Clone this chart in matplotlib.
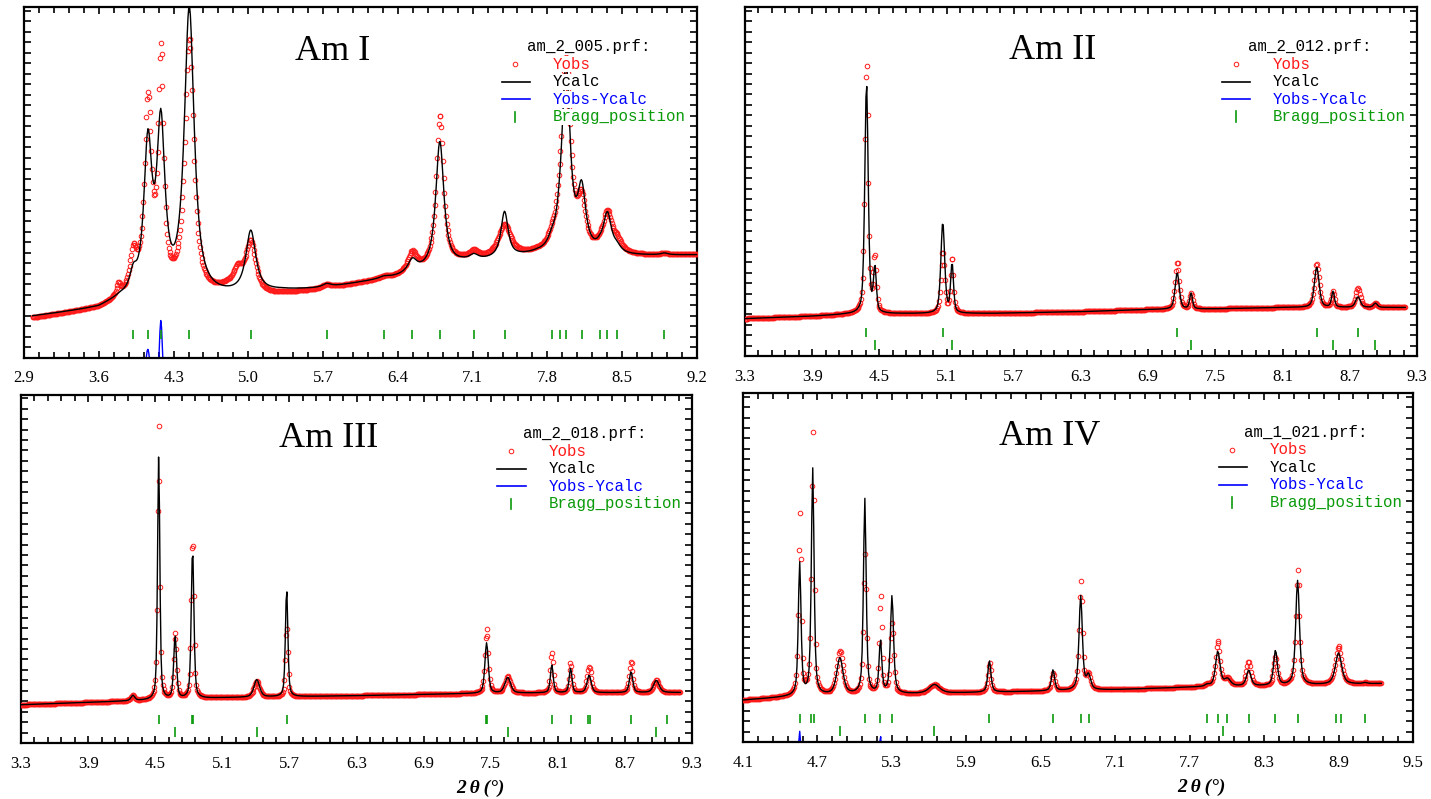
import numpy as np
import matplotlib.pyplot as plt
from matplotlib.ticker import MultipleLocator, AutoMinorLocator

# ---- Am I  (am_2_005.prf) ----
am1_name = 'Am I'
am1_file = 'am_2_005.prf:'
am1_xlim = (2.9, 9.2)
am1_xstep = 0.7
am1_range = (2.98, 9.2)
am1_bragg1 = [3.923, 4.060, 4.181, 4.447, 5.023, 5.732, 6.269, 6.536, 6.793, 7.111,
              7.399, 7.842, 7.919, 7.975, 8.121, 8.293, 8.362, 8.452, 8.895]
am1_bragg2 = []
am1_pos = [3.785, 3.923, 4.060, 4.181, 4.447, 4.900, 5.023, 5.732, 6.269, 6.536, 6.793,
           7.111, 7.399, 7.842, 7.919, 7.975, 8.121, 8.293, 8.362, 8.452, 8.895]
am1_calc = [0, 5, 42, 47, 82, 0, 17.5, 1, 0.5, 3.5, 36, 1.5, 13, 2, 3, 52.5, 16.9, 1,
            11, 1.5, 0.5]
am1_obs = [3, 11, 54, 66, 73, 5, 15, 1, 0.5, 5.5, 43, 2, 9, 2, 3, 54, 13, 1, 11, 3, 0.5]
am1_wid_calc = [0.02, 0.04, 0.045, 0.045, 0.055, 0.05, 0.055, 0.05, 0.05, 0.05, 0.045,
                0.05, 0.04, 0.04, 0.04, 0.045, 0.045, 0.04, 0.045, 0.04, 0.04]
am1_wid_obs = [0.02, 0.04, 0.04, 0.03, 0.05, 0.05, 0.06, 0.05, 0.05, 0.05, 0.04,
               0.05, 0.07, 0.04, 0.04, 0.05, 0.045, 0.04, 0.05, 0.05, 0.04]
am1_bg_x = [2.9, 3.6, 3.8, 4.3, 4.6, 4.8, 5.0, 5.1, 5.3, 5.7, 6.4, 7.0, 7.7, 8.6, 9.2]
am1_bg_calc = [11.5, 14, 16.3, 16.3, 17, 17.5, 18, 18.3, 19, 19.7, 23, 26.8, 29.2, 29, 29.3]
am1_bg_obs = [11.0, 14, 16.3, 16.5, 17, 19, 17.5, 17, 18, 19.5, 23, 27.3, 29.2, 29, 29.3]
am1_eta = 0.9
am1_diff_off = -8

# ---- Am II  (am_2_012.prf) ----
am2_name = 'Am II'
am2_file = 'am_2_012.prf:'
am2_xlim = (3.3, 9.3)
am2_xstep = 0.6
am2_range = (3.3, 9.2)
am2_bragg1 = [4.385, 5.066, 7.159, 8.405, 8.773]
am2_bragg2 = [4.460, 5.149, 7.283, 8.550, 8.929]
am2_pos = [4.385, 4.460, 5.066, 5.149, 7.159, 7.283, 8.405, 8.550, 8.773, 8.929]
am2_calc = [66, 12.5, 26, 14, 10.5, 4.5, 11.5, 4.5, 3, 1.2]
am2_obs = [72, 15.5, 17.5, 16, 13.5, 4.5, 12.5, 4.5, 5.5, 1.2]
am2_wid_calc = [0.018, 0.015, 0.02, 0.015, 0.022, 0.015, 0.025, 0.015, 0.025, 0.02]
am2_wid_obs = am2_wid_calc
am2_bg_x = [3.3, 3.9, 4.2, 4.7, 5.5, 6.3, 6.9, 7.5, 8.1, 9.2]
am2_bg_calc = [10.8, 11.5, 12.0, 12.2, 12.3, 12.8, 13.4, 13.6, 14, 14]
am2_bg_obs = am2_bg_calc
am2_eta = 0.5
am2_diff_off = -20

# ---- Am III  (am_2_018.prf) ----
am3_name = 'Am III'
am3_file = 'am_2_018.prf:'
am3_xlim = (3.3, 9.3)
am3_xstep = 0.6
am3_range = (3.3, 9.2)
am3_bragg1 = [4.531, 4.830, 4.838, 5.675, 7.455, 7.471, 8.046, 8.214, 8.370, 8.390,
              8.755, 9.079]
am3_bragg2 = [4.678, 5.408, 7.652, 8.981]
am3_pos = [4.300, 4.531, 4.678, 4.834, 5.408, 5.675, 7.463, 7.652, 8.046, 8.214,
           8.380, 8.755, 8.981]
am3_calc = [1.5, 70, 18, 43, 5, 31, 14.5, 4.5, 8, 7, 5, 6, 3.5]
am3_obs = [1.5, 79, 19, 46, 4.5, 20, 18.5, 4.8, 11.5, 8.5, 7.5, 9, 3.5]
am3_wid_calc = [0.02, 0.012, 0.015, 0.014, 0.03, 0.013, 0.018, 0.03, 0.015, 0.015,
                0.022, 0.018, 0.03]
am3_wid_obs = am3_wid_calc
am3_bg_x = [3.3, 4.2, 5.1, 6.3, 7.3, 8.0, 9.2]
am3_bg_calc = [11, 12, 13, 13.6, 14.2, 14.4, 14.5]
am3_bg_obs = am3_bg_calc
am3_eta = 0.5
am3_diff_off = -20

# ---- Am IV  (am_1_021.prf) ----
am4_name = 'Am IV'
am4_file = 'am_1_021.prf:'
am4_xlim = (4.1, 9.5)
am4_xstep = 0.6
am4_range = (4.1, 9.25)
am4_bragg1 = [4.557, 4.650, 4.673, 5.082, 5.208, 5.301, 6.086, 6.599, 6.822, 6.885,
              7.841, 7.927, 8.005, 8.176, 8.392, 8.570, 8.879, 8.923, 9.113]
am4_bragg2 = [4.881, 5.643, 7.971]
am4_pos = [4.557, 4.662, 4.881, 5.082, 5.208, 5.301, 5.643, 6.086, 6.599, 6.822,
           6.885, 7.841, 7.927, 8.005, 8.176, 8.392, 8.570, 8.900, 9.113]
am4_calc = [38, 65, 10.5, 56, 15, 28, 2.5, 9, 6, 27, 4, 0.5, 10, 2, 4.5, 10, 30, 9, 0.3]
am4_obs = [52, 75, 12.5, 40, 28, 20, 2.5, 8.5, 5, 31, 4, 0.5, 13, 2, 7, 8, 33, 11, 0.3]
am4_wid_calc = [0.013, 0.013, 0.03, 0.013, 0.013, 0.015, 0.05, 0.015, 0.015, 0.016,
                0.02, 0.02, 0.022, 0.03, 0.022, 0.018, 0.018, 0.03, 0.02]
am4_wid_obs = am4_wid_calc
am4_bg_x = [4.1, 4.5, 5.0, 5.5, 6.0, 7.1, 7.7, 8.3, 9.3]
am4_bg_calc = [12, 13, 13.5, 13.8, 14.2, 15, 15.7, 16, 16.8]
am4_bg_obs = am4_bg_calc
am4_eta = 0.6
am4_diff_off = -11

RED = '#ff1a1a'
BLUE = '#0000ff'
GREEN = '#0a9a0a'
SERIF = 'Liberation Serif'
MONO = 'Liberation Mono'


def profile(x, pos, h, w, eta, bgx, bgy):
    y = np.interp(x, bgx, bgy)
    for p, a, s in zip(pos, h, w):
        t = ((x - p) / s) ** 2
        y = y + a * (eta / (1 + t) + (1 - eta) * np.exp(-np.log(2) * t))
    return y


def panel(ax, name, fname, xlim, xstep, rng, bragg1, bragg2, pos, calc, obs,
          wc, wo, bgx, bgc, bgo, eta, off):
    x = np.arange(rng[0], rng[1] + 1e-9, 0.0075)
    yo = profile(x, pos, obs, wo, eta, bgx, bgo)
    yc = profile(x, pos, calc, wc, eta, bgx, bgc)
    ax.plot(x, yo - yc + off, color=BLUE, lw=1.0, zorder=2)
    ax.plot(x, yo, 'o', ms=3.3, mfc='none', mec=RED, mew=0.7, zorder=3)
    ax.plot(x, yc, color='black', lw=1.0, zorder=4)
    ax.vlines(bragg1, 5.4, 8.1, color=GREEN, lw=1.2)
    if bragg2:
        ax.vlines(bragg2, 1.7, 4.6, color=GREEN, lw=1.2)

    ax.set_xlim(*xlim)
    ax.set_ylim(0, 100)
    ax.set_xticks(np.round(np.arange(xlim[0], xlim[1] + 1e-6, xstep), 1))
    ax.xaxis.set_minor_locator(AutoMinorLocator(5))
    ax.yaxis.set_major_locator(MultipleLocator(3))
    ax.set_yticklabels([])
    ax.tick_params(which='both', direction='in', top=True, right=True, width=1.2)
    ax.tick_params(which='major', length=5, labelsize=12, pad=9)
    ax.tick_params(which='minor', length=4)
    for lab in ax.get_xticklabels():
        lab.set_fontfamily(SERIF)
    for s in ax.spines.values():
        s.set_linewidth(1.6)

    box = dict(facecolor='white', edgecolor='none', pad=0.5)
    ax.text(0.458, 0.875, name, transform=ax.transAxes, ha='center', va='center',
            fontsize=26, family=SERIF)
    ax.text(0.84, 0.888, fname, transform=ax.transAxes, ha='center', va='center',
            fontsize=11.3, family=MONO, bbox=box, zorder=6)
    rows = [0.837, 0.787, 0.737, 0.687]
    labels = ['Yobs', 'Ycalc', 'Yobs-Ycalc', 'Bragg_position']
    colors = [RED, 'black', BLUE, GREEN]
    ax.plot([0.73], [rows[0]], 'o', ms=3.3, mfc='none', mec=RED, mew=0.7,
            transform=ax.transAxes)
    ax.plot([0.71, 0.752], [rows[1]] * 2, color='black', lw=1.2, transform=ax.transAxes)
    ax.plot([0.71, 0.752], [rows[2]] * 2, color=BLUE, lw=1.2, transform=ax.transAxes)
    ax.plot([0.73, 0.73], [rows[3] - 0.015, rows[3] + 0.015], color=GREEN, lw=1.2,
            transform=ax.transAxes)
    for r, t, c in zip(rows, labels, colors):
        ax.text(0.786, r, t, transform=ax.transAxes, ha='left', va='center',
                fontsize=11.3, family=MONO, color=c, bbox=box, zorder=6)


fig = plt.figure(figsize=(14.31, 7.99), dpi=100)
ax1 = fig.add_axes([0.0168, 0.552, 0.4702, 0.439])
ax2 = fig.add_axes([0.5206, 0.554, 0.4696, 0.437])
ax3 = fig.add_axes([0.0147, 0.070, 0.4689, 0.436])
ax4 = fig.add_axes([0.5192, 0.0713, 0.4682, 0.4367])

panel(ax1, am1_name, am1_file, am1_xlim, am1_xstep, am1_range, am1_bragg1, am1_bragg2,
      am1_pos, am1_calc, am1_obs, am1_wid_calc, am1_wid_obs, am1_bg_x, am1_bg_calc,
      am1_bg_obs, am1_eta, am1_diff_off)
panel(ax2, am2_name, am2_file, am2_xlim, am2_xstep, am2_range, am2_bragg1, am2_bragg2,
      am2_pos, am2_calc, am2_obs, am2_wid_calc, am2_wid_obs, am2_bg_x, am2_bg_calc,
      am2_bg_obs, am2_eta, am2_diff_off)
panel(ax3, am3_name, am3_file, am3_xlim, am3_xstep, am3_range, am3_bragg1, am3_bragg2,
      am3_pos, am3_calc, am3_obs, am3_wid_calc, am3_wid_obs, am3_bg_x, am3_bg_calc,
      am3_bg_obs, am3_eta, am3_diff_off)
panel(ax4, am4_name, am4_file, am4_xlim, am4_xstep, am4_range, am4_bragg1, am4_bragg2,
      am4_pos, am4_calc, am4_obs, am4_wid_calc, am4_wid_obs, am4_bg_x, am4_bg_calc,
      am4_bg_obs, am4_eta, am4_diff_off)

for ax in (ax3, ax4):
    ax.text(0.685, -0.129, '2\u2009\u03b8\u2009(\u00b0)', transform=ax.transAxes,
            ha='center', va='center', fontsize=14, family=SERIF,
            fontweight='bold', style='italic')

fig.savefig('out.png', dpi=100)
